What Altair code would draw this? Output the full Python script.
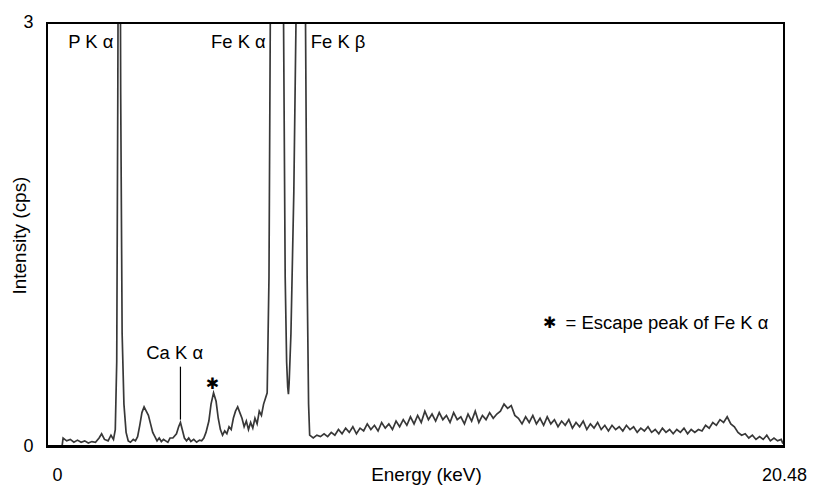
import altair as alt
import pandas as pd

# Spectrum: energies (keV) and intensities (cps)
energy_peaks = [0.42, 0.45, 0.55, 0.65, 0.75, 0.85, 0.95, 1.05, 1.15, 1.25, 1.35, 1.45, 1.52, 1.6, 1.7,
                1.78, 1.85, 1.9, 1.94, 1.97, 2.01, 2.05, 2.09, 2.14, 2.2, 2.26, 2.32, 2.4, 2.46, 2.52,
                2.58, 2.64, 2.7, 2.76, 2.82, 2.88, 2.94, 3.0, 3.06, 3.12, 3.18, 3.24, 3.3, 3.36, 3.42,
                3.5, 3.6, 3.66, 3.71, 3.76, 3.82, 3.88, 3.94, 4.0, 4.08, 4.16, 4.24, 4.3, 4.36, 4.42,
                4.5, 4.56, 4.63, 4.7, 4.76, 4.82, 4.88, 4.94, 5.0, 5.06, 5.12, 5.18, 5.24, 5.3, 5.36,
                5.42, 5.48, 5.54, 5.6, 5.66, 5.72, 5.78, 5.84, 5.9, 5.96, 6.02, 6.07, 6.12, 6.17, 6.21,
                6.4, 6.57, 6.62, 6.66, 6.69, 6.71, 6.73, 6.78, 6.86, 6.93, 7.06, 7.18, 7.23, 7.27, 7.3]
intensity_peaks = [0.0, 0.06, 0.04, 0.05, 0.03, 0.045, 0.03, 0.04, 0.025, 0.035, 0.03, 0.06, 0.09, 0.05, 0.04,
                   0.08, 0.05, 0.12, 0.6, 2.5, 6.0, 2.5, 0.8, 0.3, 0.1, 0.04, 0.03, 0.05, 0.04, 0.07,
                   0.15, 0.24, 0.28, 0.25, 0.22, 0.16, 0.1, 0.07, 0.04, 0.06, 0.035, 0.05, 0.04, 0.03, 0.06,
                   0.06, 0.09, 0.14, 0.17, 0.12, 0.06, 0.04, 0.06, 0.035, 0.05, 0.03, 0.045, 0.04, 0.06, 0.1,
                   0.18, 0.3, 0.38, 0.32, 0.2, 0.12, 0.08, 0.11, 0.09, 0.14, 0.12, 0.2, 0.25, 0.28, 0.24,
                   0.2, 0.14, 0.18, 0.12, 0.17, 0.13, 0.2, 0.16, 0.25, 0.22, 0.3, 0.34, 0.38, 1.2, 3.2,
                   40.0, 3.2, 1.2, 0.6, 0.42, 0.37, 0.45, 0.8, 1.8, 3.2, 12.0, 3.2, 1.2, 0.3, 0.08]

energy_cont = [7.4, 7.5, 7.6, 7.7, 7.8, 7.9, 8.0, 8.1, 8.2, 8.3, 8.4, 8.5, 8.6, 8.7, 8.8, 8.9,
               9.0, 9.1, 9.2, 9.3, 9.4, 9.5, 9.6, 9.7, 9.8, 9.9, 10.0, 10.1, 10.2, 10.3, 10.4, 10.5,
               10.6, 10.7, 10.8, 10.9, 11.0, 11.1, 11.2, 11.3, 11.4, 11.5, 11.6, 11.7, 11.8, 11.9,
               12.0, 12.1, 12.2, 12.3, 12.4, 12.5, 12.6, 12.7, 12.8, 12.9, 13.0, 13.1, 13.2, 13.3,
               13.4, 13.5, 13.6, 13.7, 13.8, 13.9, 14.0, 14.1, 14.2, 14.3, 14.4, 14.5, 14.6, 14.7,
               14.8, 14.9, 15.0, 15.1, 15.2, 15.3, 15.4, 15.5, 15.6, 15.7, 15.8, 15.9, 16.0, 16.1,
               16.2, 16.3, 16.4, 16.5, 16.6, 16.7, 16.8, 16.9, 17.0, 17.1, 17.2, 17.3, 17.4, 17.5,
               17.6, 17.7, 17.8, 17.9, 18.0, 18.1, 18.2, 18.3, 18.4, 18.5, 18.6, 18.7, 18.8, 18.9,
               19.0, 19.1, 19.2, 19.3, 19.4, 19.5, 19.6, 19.7, 19.8, 19.9, 20.0, 20.1, 20.2, 20.3,
               20.4, 20.45]
intensity_cont = [0.06, 0.08, 0.07, 0.09, 0.07, 0.10, 0.08, 0.12, 0.09, 0.13, 0.10, 0.14, 0.09, 0.13, 0.11, 0.16,
                  0.12, 0.15, 0.11, 0.17, 0.13, 0.16, 0.12, 0.18, 0.14, 0.19, 0.15, 0.21, 0.16, 0.22, 0.17, 0.25,
                  0.19, 0.23, 0.18, 0.24, 0.19, 0.22, 0.17, 0.24, 0.19, 0.21, 0.16, 0.23, 0.18, 0.25,
                  0.17, 0.22, 0.19, 0.24, 0.20, 0.23, 0.25, 0.30, 0.27, 0.29, 0.22, 0.20, 0.16, 0.21,
                  0.17, 0.22, 0.16, 0.20, 0.15, 0.21, 0.16, 0.19, 0.14, 0.18, 0.15, 0.19, 0.13, 0.17,
                  0.14, 0.18, 0.12, 0.16, 0.13, 0.17, 0.12, 0.15, 0.11, 0.15, 0.12, 0.14, 0.11, 0.15,
                  0.12, 0.14, 0.10, 0.13, 0.11, 0.14, 0.10, 0.12, 0.09, 0.13, 0.10, 0.12, 0.09, 0.12,
                  0.10, 0.13, 0.09, 0.12, 0.10, 0.12, 0.11, 0.15, 0.13, 0.17, 0.15, 0.19, 0.17, 0.21,
                  0.16, 0.14, 0.10, 0.08, 0.09, 0.06, 0.08, 0.05, 0.07, 0.05, 0.08, 0.04, 0.06, 0.04,
                  0.05, 0.02]

# Annotation labels
label_text = ["P K α", "Fe K α", "Fe K β", "Ca K α"]
label_x = [1.22, 5.32, 8.09, 3.55]
label_y = [2.86, 2.86, 2.86, 0.66]

spec = pd.DataFrame({"E": energy_peaks + energy_cont, "I": intensity_peaks + intensity_cont})
labels = pd.DataFrame({"t": label_text, "x": label_x, "y": label_y})
ca_line = pd.DataFrame({"x": [3.71], "y": [0.565], "y2": [0.19]})
star_df = pd.DataFrame({"t": ["✱", "✱"], "x": [4.60, 13.97], "y": [0.44, 0.875]})
legend_df = pd.DataFrame({"t": ["= Escape peak of Fe K α"], "x": [14.41], "y": [0.875]})

FONT = "Liberation Sans"

xscale = alt.Scale(domain=[0, 20.48], nice=False, zero=False)
yscale = alt.Scale(domain=[0, 3], nice=False)

line = alt.Chart(spec).mark_line(color="#383838", strokeWidth=1.7, clip=True, interpolate="linear").encode(
    x=alt.X("E:Q", scale=xscale,
            axis=alt.Axis(values=[0, 20.48], title="Energy (keV)", ticks=False, domain=False, grid=False,
                          labelExpr="datum.value == 0 ? '0' : '20.48'",
                          labelFont=FONT, labelFontSize=18, labelColor="black",
                          labelPadding=20, labelBaseline="top",
                          labelOffset=alt.expr("datum.value == 0 ? 10 : 0"),
                          labelFlush=False, labelOverlap=False,
                          titleFont=FONT, titleFontSize=19, titleFontWeight="normal", titleColor="black",
                          titleX=380, titleY=34, titleBaseline="alphabetic", titleAlign="center")),
    y=alt.Y("I:Q", scale=yscale,
            axis=alt.Axis(values=[0, 3], title="Intensity (cps)", ticks=False, domain=False, grid=False,
                          labelExpr="datum.value == 0 ? '0' : '3'",
                          labelFont=FONT, labelFontSize=18, labelColor="black", labelPadding=14,
                          labelFlush=False, labelOverlap=False,
                          titleFont=FONT, titleFontSize=19, titleFontWeight="normal", titleColor="black",
                          titleAngle=270, titleX=-27, titleY=213, titleAlign="center",
                          titleBaseline="middle")),
    order="E:Q",
)

frame = alt.Chart(spec).mark_rect(fill=None, stroke="black", strokeWidth=1.3).encode(
    x=alt.value(0), x2=alt.value(739), y=alt.value(0), y2=alt.value(425))

text = alt.Chart(labels).mark_text(font=FONT, fontSize=18.5, color="black", align="center",
                                   baseline="middle").encode(
    x=alt.X("x:Q", scale=xscale), y=alt.Y("y:Q", scale=yscale), text="t:N")

rule = alt.Chart(ca_line).mark_rule(color="black", strokeWidth=1.2).encode(
    x=alt.X("x:Q", scale=xscale), y=alt.Y("y:Q", scale=yscale), y2="y2:Q")

stars = alt.Chart(star_df).mark_text(font="DejaVu Sans", fontSize=16, color="black", align="center",
                                     baseline="middle").encode(
    x=alt.X("x:Q", scale=xscale), y=alt.Y("y:Q", scale=yscale), text="t:N")

legend = alt.Chart(legend_df).mark_text(font=FONT, fontSize=18.5, color="black", align="left",
                                        baseline="middle").encode(
    x=alt.X("x:Q", scale=xscale), y=alt.Y("y:Q", scale=yscale), text="t:N")

chart = alt.layer(line, frame, rule, text, stars, legend).properties(
    width=739, height=425,
    autosize=alt.AutoSizeParams(type="none"),
    padding={"left": 39, "top": 14, "right": 25, "bottom": 40},
).configure_view(stroke=None).configure(background="white")

chart.save("out.html", embed_options={"renderer": "svg", "actions": False})
